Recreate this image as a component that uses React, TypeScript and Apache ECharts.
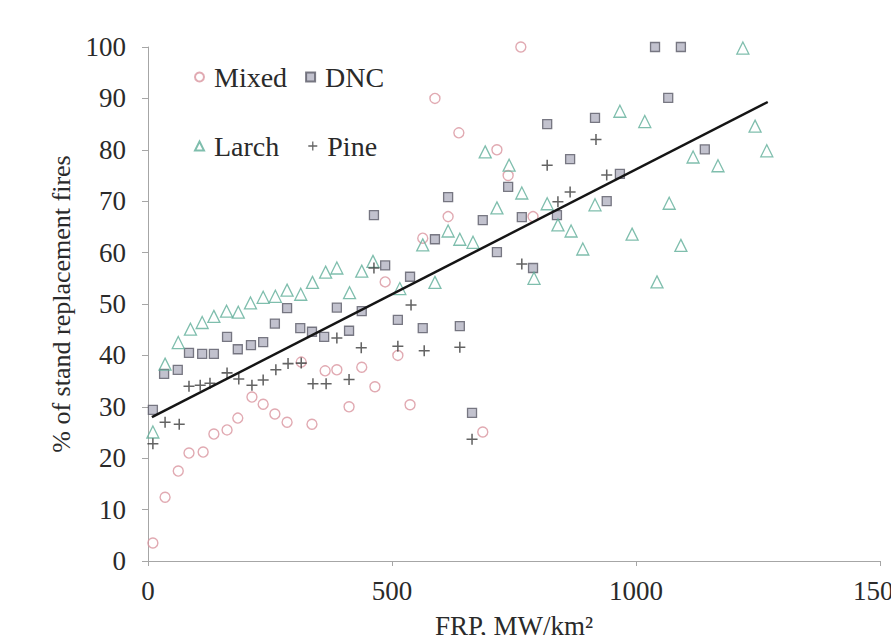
import React, { useEffect, useRef } from "react";
import * as echarts from "echarts";

const seriesNames = ["Mixed", "DNC", "Larch", "Pine"];

const mixed: number[][] = [
  [10, 3.5], [35, 12.4], [62, 17.5], [84, 21], [113, 21.2], [135, 24.7], [162, 25.5],
  [184, 27.8], [213, 31.9], [236, 30.5], [260, 28.6], [285, 27], [314, 38.7], [336, 26.6],
  [363, 37], [387, 37.2], [412, 30], [438, 37.7], [465, 33.9], [486, 54.3], [512, 40],
  [537, 30.4], [563, 62.8], [588, 90], [615, 67], [637, 83.3], [686, 25.1], [715, 80],
  [738, 75], [764, 100], [789, 67],
];

const dnc: number[][] = [
  [10, 29.4], [33, 36.4], [61, 37.2], [84, 40.5], [111, 40.3], [135, 40.3], [162, 43.6],
  [184, 41.2], [211, 42], [236, 42.6], [260, 46.2], [285, 49.2], [312, 45.3], [336, 44.6],
  [361, 43.6], [387, 49.3], [412, 44.8], [438, 48.6], [463, 67.3], [486, 57.5], [512, 46.9],
  [537, 55.3], [563, 45.3], [588, 62.6], [615, 70.8], [639, 45.7], [664, 28.8], [686, 66.3],
  [715, 60.1], [738, 72.8], [766, 66.9], [789, 57], [818, 85], [838, 67.3], [865, 78.2],
  [916, 86.2], [940, 70], [967, 75.3], [1039, 100], [1066, 90.1], [1092, 100], [1141, 80.1],
];

const larch: number[][] = [
  [10, 25.1], [35, 38.3], [62, 42.5], [87, 45.1], [111, 46.4], [135, 47.6], [161, 48.6],
  [185, 48.4], [210, 50.2], [236, 51.3], [261, 51.5], [285, 52.7], [313, 51.9], [337, 54.2],
  [364, 56.2], [387, 57], [413, 52.2], [438, 56.4], [461, 58.3], [516, 53], [563, 61.5],
  [588, 54.2], [615, 64.2], [639, 62.6], [666, 62], [691, 79.6], [715, 68.7], [740, 77],
  [766, 71.6], [791, 55], [818, 69.5], [840, 65.4], [867, 64.2], [891, 60.7], [916, 69.3],
  [967, 87.5], [992, 63.6], [1018, 85.5], [1043, 54.3], [1068, 69.6], [1092, 61.4],
  [1117, 78.6], [1168, 76.9], [1219, 99.8], [1244, 84.6], [1268, 79.8],
];

const pine: number[][] = [
  [10, 22.8], [35, 27], [64, 26.6], [84, 34], [107, 34.2], [127, 34.6], [162, 36.6],
  [186, 35.4], [213, 34.2], [236, 35.2], [262, 37.2], [287, 38.4], [314, 38.5], [338, 34.5],
  [365, 34.5], [387, 43.4], [412, 35.3], [437, 41.5], [463, 57], [512, 41.8], [539, 49.8],
  [566, 40.9], [639, 41.6], [664, 23.7], [766, 57.8], [818, 77], [840, 69.9], [865, 71.8],
  [918, 82], [940, 75.1],
];

const trendLine: number[][] = [[8, 28], [1270, 89.3]];

const xTicks = { min: 0, max: 1500, interval: 500 };
const yTicks = { min: 0, max: 100, interval: 10 };

const FONT = '"Liberation Serif", "Times New Roman", serif';
const PLUS =
  "path://M4.3,0 L5.7,0 L5.7,4.3 L10,4.3 L10,5.7 L5.7,5.7 L5.7,10 L4.3,10 L4.3,5.7 L0,5.7 L0,4.3 L4.3,4.3 Z";

export default function App() {
  const ref = useRef<HTMLDivElement>(null);
  useEffect(() => {
    document.body.style.margin = "0";
    if (!ref.current) return;
    const chart = echarts.init(ref.current, null, { renderer: "svg" });
    const axisLine = { show: true, lineStyle: { color: "#a6a6a6", width: 1 } };
    chart.setOption({
      animation: false,
      backgroundColor: "#ffffff",
      grid: {
        left: 148,
        right: 11,
        top: 47,
        bottom: 74,
        containLabel: false,
        outerBoundsMode: "none",
      },
      legend: [
        {
          data: [seriesNames[0], seriesNames[1]],
          left: 189,
          top: 58,
          itemWidth: 9,
          itemHeight: 9,
          itemGap: 18,
          textStyle: { fontFamily: FONT, fontSize: 28, color: "#2a2a2a", padding: [0, 0, 0, 5] },
        },
        {
          data: [seriesNames[2], seriesNames[3]],
          left: 189,
          top: 127,
          itemWidth: 9,
          itemHeight: 9,
          itemGap: 29,
          textStyle: { fontFamily: FONT, fontSize: 28, color: "#2a2a2a", padding: [0, 0, 0, 5] },
        },
      ],
      xAxis: {
        type: "value",
        min: xTicks.min,
        max: xTicks.max,
        interval: xTicks.interval,
        name: "FRP, MW/km²",
        nameLocation: "middle",
        nameGap: 51,
        nameTextStyle: { fontFamily: FONT, fontSize: 27, color: "#2a2a2a" },
        axisLine,
        axisTick: { show: true, inside: false, length: 5, lineStyle: { color: "#a6a6a6" } },
        axisLabel: {
          fontFamily: FONT,
          fontSize: 27,
          color: "#2a2a2a",
          margin: 16,
          formatter: (v: number) => String(v),
        },
        splitLine: { show: false },
      },
      yAxis: {
        type: "value",
        min: yTicks.min,
        max: yTicks.max,
        interval: yTicks.interval,
        name: "% of stand replacement fires",
        nameLocation: "middle",
        nameGap: 74,
        nameTextStyle: { fontFamily: FONT, fontSize: 26, color: "#2a2a2a" },
        axisLine,
        axisTick: { show: true, inside: false, length: 6, lineStyle: { color: "#a6a6a6" } },
        axisLabel: {
          fontFamily: FONT,
          fontSize: 27,
          color: "#2a2a2a",
          margin: 22,
          formatter: (v: number) => String(v),
        },
        splitLine: { show: false },
      },
      series: [
        {
          name: seriesNames[0],
          type: "scatter",
          data: mixed,
          symbol: "circle",
          symbolSize: 10,
          itemStyle: { color: "rgba(255,255,255,0)", borderColor: "#d9959f", borderWidth: 1.4 },
        },
        {
          name: seriesNames[1],
          type: "scatter",
          data: dnc,
          symbol: "rect",
          symbolSize: 9,
          itemStyle: { color: "#b3b3c2", borderColor: "#5b5b68", borderWidth: 1.3 },
        },
        {
          name: seriesNames[2],
          type: "scatter",
          data: larch,
          symbol: "triangle",
          symbolSize: 12,
          itemStyle: { color: "rgba(255,255,255,0)", borderColor: "#5fae98", borderWidth: 1.3 },
        },
        {
          name: seriesNames[3],
          type: "scatter",
          data: pine,
          symbol: PLUS,
          symbolSize: 11,
          itemStyle: { color: "#3c3c3c" },
        },
        {
          name: "Trend",
          type: "line",
          data: trendLine,
          symbol: "none",
          lineStyle: { color: "#151515", width: 2.5 },
          z: 5,
        },
      ],
    });
    return () => chart.dispose();
  }, []);
  return <div ref={ref} style={{ width: 891, height: 635 }} />;
}
